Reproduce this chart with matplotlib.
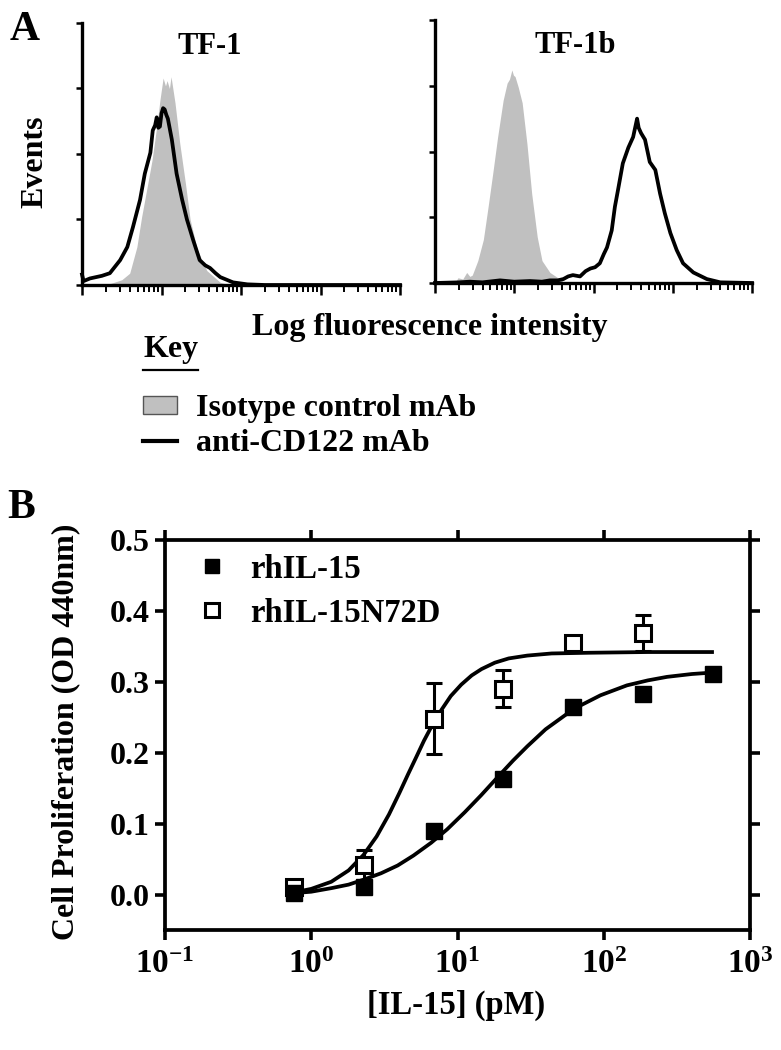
import numpy as np
import matplotlib
matplotlib.use("Agg")
from matplotlib import pyplot as plt
from matplotlib.lines import Line2D
from matplotlib.patches import Patch
from matplotlib.ticker import LogLocator, NullFormatter, NullLocator

plt.rcParams["font.family"] = ["Liberation Serif", "DejaVu Serif"]
plt.rcParams["font.weight"] = "bold"
plt.rcParams["axes.labelweight"] = "bold"
plt.rcParams["mathtext.fontset"] = "custom"
plt.rcParams["mathtext.rm"] = "Liberation Serif:bold"
plt.rcParams["mathtext.bf"] = "Liberation Serif:bold"
plt.rcParams["mathtext.it"] = "Liberation Serif:bold:italic"

# --- panel A: flow histograms (log10 intensity, events) ---
tf1_iso_log = [0.20, 0.35, 0.50, 0.60, 0.69, 0.75, 0.82, 0.88, 0.94, 0.98, 1.02, 1.05,
               1.07, 1.10, 1.12, 1.17, 1.23, 1.30, 1.36, 1.45, 1.57, 1.74, 1.86]
tf1_iso_cnt = [0, 1, 4, 9, 29, 52, 75, 95, 121, 141, 158, 152,
               156, 150, 159, 139, 108, 78, 50, 27, 11, 2, 0]

tf1_cd_log = [0.00, 0.02, 0.10, 0.25, 0.35, 0.48, 0.57, 0.64, 0.73, 0.79, 0.86, 0.89,
              0.92, 0.94, 0.96, 0.98, 1.00, 1.02, 1.04, 1.06, 1.08, 1.13, 1.19, 1.26,
              1.32, 1.40, 1.48, 1.55, 1.61, 1.68, 1.74, 1.82, 1.90, 2.08, 2.30, 4.00]
tf1_cd_cnt = [8, 3, 5, 7, 9, 19, 29, 44, 65, 85, 101, 118,
              122, 128, 120, 121, 131, 135, 134, 130, 127, 111, 85, 65,
              50, 34, 19, 15, 13, 9, 6, 4, 2, 0.5, 0, 0]

tf1b_iso_log = [0.25, 0.29, 0.35, 0.40, 0.44, 0.47, 0.54, 0.61, 0.67, 0.73, 0.79, 0.86, 0.91,
                0.94, 0.97, 0.99, 1.01, 1.05, 1.10, 1.16, 1.22, 1.29, 1.35, 1.45, 1.55, 1.64]
tf1b_iso_cnt = [0, 4, 3, 8, 5, 6, 17, 33, 58, 84, 111, 139, 152,
                155, 162, 158, 157, 149, 137, 106, 68, 35, 17, 8, 4, 0]

tf1b_cd_log = [0.00, 0.30, 0.44, 0.60, 0.82, 1.00, 1.20, 1.35, 1.45, 1.55, 1.62, 1.68, 1.74,
               1.83, 1.90, 1.96, 2.02, 2.08, 2.13, 2.17, 2.23, 2.27, 2.31, 2.37, 2.44, 2.50,
               2.55, 2.57, 2.60, 2.65, 2.71, 2.78, 2.84, 2.90, 2.97, 3.05, 3.13, 3.26, 3.43,
               3.60, 4.00]
tf1b_cd_cnt = [0, 0.5, 1, 0.5, 2, 1, 1.5, 1, 2, 2, 3, 5, 6,
               5, 9, 11, 12, 15, 22, 27, 40, 58, 71, 91, 103, 111,
               125, 118, 114, 109, 92, 86, 68, 53, 38, 25, 15, 8, 3,
               0.5, 0]

# --- panel B: proliferation ---
conc = [0.76, 2.3, 6.9, 20.6, 62, 185, 555]
il15 = [0.002, 0.011, 0.089, 0.163, 0.264, 0.283, 0.311]
il15_err = [0.004, 0.004, 0.006, 0.006, 0.006, 0.006, 0.006]
conc_n72d = [0.76, 2.3, 6.9, 20.6, 62, 185]
n72d = [0.010, 0.041, 0.248, 0.290, 0.355, 0.369]
n72d_err = [0.005, 0.022, 0.050, 0.026, 0.008, 0.025]

# fitted curves
fit_n72d_x = [0.76, 1.0, 1.37, 1.8, 2.28, 2.8, 3.4, 4.0, 4.6, 5.2, 5.9, 6.8, 7.8, 9.0,
              10.6, 12.5, 14.6, 18, 22.4, 30, 44, 80, 200, 550]
fit_n72d_y = [0.003, 0.008, 0.018, 0.034, 0.056, 0.082, 0.113, 0.143, 0.170, 0.193, 0.217,
              0.241, 0.261, 0.280, 0.296, 0.309, 0.318, 0.327, 0.333, 0.337, 0.340, 0.341,
              0.342, 0.342]
fit_il15_x = [0.76, 1.0, 1.37, 1.8, 2.28, 3.0, 3.9, 5.0, 6.6, 8.5, 11.2, 14.5, 19.1, 24,
              30, 40, 62.6, 95, 144, 200, 271, 400, 550]
fit_il15_y = [0.002, 0.004, 0.009, 0.014, 0.021, 0.030, 0.041, 0.055, 0.073, 0.092, 0.116,
              0.140, 0.167, 0.189, 0.209, 0.233, 0.262, 0.281, 0.295, 0.302, 0.307, 0.311,
              0.313]

GRAY = "#c0c0c0"
W, H = 781, 1050

fig = plt.figure(figsize=(W / 100, H / 100), dpi=100)


def px(x, y):
    return x / W, 1 - y / H


def flow_axes(left, top, right, bottom):
    ax = fig.add_axes([left / W, 1 - bottom / H, (right - left) / W, (bottom - top) / H])
    ax.set_xscale("log")
    ax.set_xlim(1, 1e4)
    ax.set_ylim(0, 200)
    ax.set_yticks([0, 50, 100, 150, 200])
    ax.set_yticklabels([])
    ax.xaxis.set_major_locator(LogLocator(base=10, numticks=10))
    ax.xaxis.set_minor_locator(LogLocator(base=10, subs=np.arange(2, 10), numticks=10))
    ax.xaxis.set_major_formatter(NullFormatter())
    ax.xaxis.set_minor_formatter(NullFormatter())
    for s in ("top", "right"):
        ax.spines[s].set_visible(False)
    for s in ("left", "bottom"):
        ax.spines[s].set_linewidth(2.4)
    ax.tick_params(axis="y", length=4, width=1.8, direction="out")
    ax.tick_params(axis="x", which="major", length=7, width=1.8)
    ax.tick_params(axis="x", which="minor", length=5, width=1.4)
    return ax


def draw_hist(ax, iso_log, iso_cnt, cd_log, cd_cnt):
    ax.fill_between(np.power(10.0, iso_log), iso_cnt, 0, color=GRAY, lw=0)
    ax.plot(np.power(10.0, cd_log), cd_cnt, color="black", lw=2.7, clip_on=False)


ax1 = flow_axes(82, 23, 400, 285)
draw_hist(ax1, tf1_iso_log, tf1_iso_cnt, tf1_cd_log, tf1_cd_cnt)
ax2 = flow_axes(435, 20, 752, 283)
draw_hist(ax2, tf1b_iso_log, tf1b_iso_cnt, tf1b_cd_log, tf1b_cd_cnt)

fig.text(*px(10, 40), "A", fontsize=30, va="baseline", ha="left")
fig.text(*px(210, 54), "TF-1", fontsize=22, va="baseline", ha="center")
fig.text(*px(575, 53), "TF-1b", fontsize=22, va="baseline", ha="center")
fig.text(*px(35, 162), "Events", fontsize=23, rotation=90, va="center", ha="center")
fig.text(*px(430, 335), "Log fluorescence intensity", fontsize=23, va="baseline", ha="center")

key = fig.text(*px(143, 357), "Key", fontsize=23, va="baseline", ha="left")
fig.legend(handles=[Patch(facecolor=GRAY, edgecolor="#555555", lw=1.0),
                    Line2D([], [], color="black", lw=3)],
           labels=["Isotype control mAb", "anti-CD122 mAb"],
           loc="upper left", bbox_to_anchor=px(143, 394), frameon=False, fontsize=23,
           handlelength=1.05, handleheight=0.5, handletextpad=0.6, labelspacing=0.2,
           borderpad=0, borderaxespad=0)

fig.text(*px(7, 518), "B", fontsize=30, va="baseline", ha="left")

axb = fig.add_axes([165 / W, 120 / H, 585 / W, 390 / H])
axb.set_xscale("log")
axb.set_xlim(0.1, 1000)
axb.set_ylim(-0.05, 0.5)
axb.set_xticks([0.1, 1, 10, 100, 1000])
axb.set_xticklabels([r"$10^{-1}$", r"$10^{0}$", r"$10^{1}$", r"$10^{2}$", r"$10^{3}$"])
axb.xaxis.set_minor_locator(NullLocator())
axb.set_yticks([0.0, 0.1, 0.2, 0.3, 0.4, 0.5])
axb.set_yticklabels(["0.0", "0.1", "0.2", "0.3", "0.4", "0.5"])
for s in axb.spines.values():
    s.set_linewidth(2.7)
axb.tick_params(which="both", top=True, right=True, direction="out", length=7, width=2.6)
axb.tick_params(axis="y", labelsize=23, pad=4)
axb.tick_params(axis="x", labelsize=24, pad=7)

axb.plot(fit_n72d_x, fit_n72d_y, color="black", lw=2.7, zorder=2)
axb.plot(fit_il15_x, fit_il15_y, color="black", lw=2.7, zorder=2)
axb.errorbar(conc_n72d, n72d, yerr=n72d_err, fmt="s", ms=11, mfc="white", mec="black",
             mew=2.2, ecolor="black", elinewidth=2.2, capsize=5.5, capthick=2.2, zorder=3)
axb.errorbar(conc, il15, yerr=il15_err, fmt="s", ms=12, mfc="black", mec="black",
             ecolor="black", elinewidth=2.2, capsize=5.5, capthick=2.2, zorder=4)

axb.legend(handles=[Line2D([], [], ls="none", marker="s", ms=10, color="black"),
                    Line2D([], [], ls="none", marker="s", ms=10, mfc="white", mec="black",
                           mew=2.2)],
           labels=["rhIL-15", "rhIL-15N72D"], loc="upper left",
           bbox_to_anchor=(0.0525, 0.965), frameon=False, fontsize=23.5, handlelength=1.0,
           handletextpad=0.67, labelspacing=0.4, borderpad=0, borderaxespad=0)

axb.set_ylabel("Cell Proliferation (OD 440nm)", fontsize=23)
axb.yaxis.set_label_coords(-0.145, 0.508)
axb.set_xlabel("[IL-15] (pM)", fontsize=23.5)
axb.xaxis.set_label_coords(0.497, -0.154)

# underline for "Key"
fig.canvas.draw()
bb = key.get_window_extent()
fig.add_artist(Line2D([bb.x0 / W, bb.x1 / W], [1 - 370 / H, 1 - 370 / H],
                      color="black", lw=1.6))

fig.savefig("out.png", dpi=100)
